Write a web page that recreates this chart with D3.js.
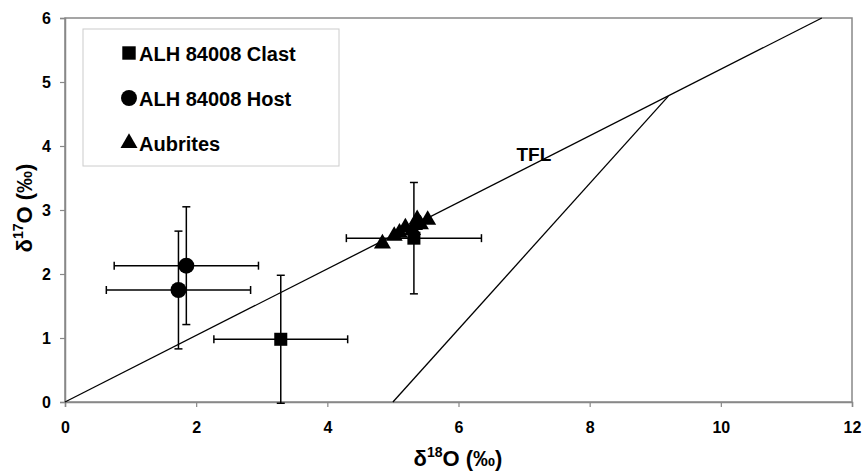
<!DOCTYPE html>
<html>
<head>
<meta charset="utf-8">
<script src="https://cdn.jsdelivr.net/npm/d3@7"></script>
<style>
  body { margin: 0; background: #fff; }
  text { font-family: "Liberation Sans", Arial, sans-serif; font-weight: bold; }
</style>
</head>
<body>
<div id="main"></div>
<script>
// data
var clast = [
  { x: 3.29, y: 0.98, ex: 1.02, ey: 1.0 },
  { x: 5.32, y: 2.56, ex: 1.03, ey: 0.87 }
]
var host = [
  { x: 1.73, y: 1.75, ex: 1.1, ey: 0.92 },
  { x: 1.85, y: 2.13, ex: 1.1, ey: 0.92 }
]
var aubrites = [
  { x: 4.84, y: 2.49 },
  { x: 5.02, y: 2.61 },
  { x: 5.10, y: 2.66 },
  { x: 5.19, y: 2.74 },
  { x: 5.30, y: 2.70 },
  { x: 5.33, y: 2.78 },
  { x: 5.37, y: 2.87 },
  { x: 5.42, y: 2.79 },
  { x: 5.53, y: 2.86 }
]
var tfl = [[0, 0], [11.54, 6]]
var fracLine = [[5.0, 0], [9.2, 4.78]]
var xTicks = [0, 2, 4, 6, 8, 10, 12]
var yTicks = [0, 1, 2, 3, 4, 5, 6]
var legendItems = ['ALH 84008 Clast', 'ALH 84008 Host', 'Aubrites']

var width = 863, height = 472
var plotLeft = 65, plotRight = 852, plotTop = 18, plotBottom = 402

var svg = d3.select('#main')
  .append('svg')
  .attr('width', width)
  .attr('height', height)

var x = d3.scaleLinear().domain([0, 12]).range([plotLeft, plotRight])
var y = d3.scaleLinear().domain([0, 6]).range([plotBottom, plotTop])

// plot frame
svg.append('rect')
  .attr('x', plotLeft).attr('y', plotTop)
  .attr('width', plotRight - plotLeft).attr('height', plotBottom - plotTop)
  .attr('fill', 'none')
  .attr('stroke', '#888')
  .attr('stroke-width', 1.5)

var xAxis = svg.append('g')
  .attr('transform', `translate(0, ${plotBottom})`)
  .call(d3.axisBottom(x).tickValues(xTicks).tickFormat(d3.format('d')).tickSize(5).tickPadding(15))
var yAxis = svg.append('g')
  .attr('transform', `translate(${plotLeft}, 0)`)
  .call(d3.axisLeft(y).tickValues(yTicks).tickFormat(d3.format('d')).tickSize(5).tickPadding(9))

;[xAxis, yAxis].forEach(function (a) {
  a.attr('font-size', null).attr('font-family', null)
  a.select('.domain').attr('stroke', '#888').attr('stroke-width', 1.5)
  a.selectAll('.tick line').attr('stroke', '#888').attr('stroke-width', 1.2)
  a.selectAll('.tick text')
    .attr('fill', '#000')
    .style('font-size', '16px')
})

// reference lines
var line = d3.line().x(_ => x(_[0])).y(_ => y(_[1]))
svg.append('path').attr('d', line(tfl)).attr('stroke', '#000').attr('stroke-width', 1.3).attr('fill', 'none')
svg.append('path').attr('d', line(fracLine)).attr('stroke', '#000').attr('stroke-width', 1.3).attr('fill', 'none')

svg.append('text')
  .text('TFL')
  .attr('x', x(7.15)).attr('y', y(3.76))
  .attr('text-anchor', 'middle')
  .style('font-size', '19px')

// error bars
var cap = 4
function errorBars (data) {
  var g = svg.append('g').attr('stroke', '#000').attr('stroke-width', 1.5)
  data.forEach(function (d) {
    g.append('line').attr('x1', x(d.x - d.ex)).attr('x2', x(d.x + d.ex)).attr('y1', y(d.y)).attr('y2', y(d.y))
    g.append('line').attr('x1', x(d.x - d.ex)).attr('x2', x(d.x - d.ex)).attr('y1', y(d.y) - cap).attr('y2', y(d.y) + cap)
    g.append('line').attr('x1', x(d.x + d.ex)).attr('x2', x(d.x + d.ex)).attr('y1', y(d.y) - cap).attr('y2', y(d.y) + cap)
    g.append('line').attr('x1', x(d.x)).attr('x2', x(d.x)).attr('y1', y(d.y - d.ey)).attr('y2', y(d.y + d.ey))
    g.append('line').attr('x1', x(d.x) - cap).attr('x2', x(d.x) + cap).attr('y1', y(d.y - d.ey)).attr('y2', y(d.y - d.ey))
    g.append('line').attr('x1', x(d.x) - cap).attr('x2', x(d.x) + cap).attr('y1', y(d.y + d.ey)).attr('y2', y(d.y + d.ey))
  })
}
errorBars(clast)
errorBars(host)

var square = d3.symbol().type(d3.symbolSquare).size(170)
var circle = d3.symbol().type(d3.symbolCircle).size(200)
var triangle = d3.symbol().type(d3.symbolTriangle).size(125)

svg.selectAll('.clast').data(clast).enter().append('path')
  .attr('d', square).attr('transform', _ => `translate(${x(_.x)}, ${y(_.y)})`)
svg.selectAll('.host').data(host).enter().append('path')
  .attr('d', circle).attr('transform', _ => `translate(${x(_.x)}, ${y(_.y)})`)
svg.selectAll('.aub').data(aubrites).enter().append('path')
  .attr('d', triangle).attr('transform', _ => `translate(${x(_.x)}, ${y(_.y) + 1})`)

// legend
svg.append('rect')
  .attr('x', 83).attr('y', 29).attr('width', 256).attr('height', 137)
  .attr('fill', '#fff').attr('stroke', '#ccc').attr('stroke-width', 1)

var shapes = [d3.symbol().type(d3.symbolSquare).size(180), d3.symbol().type(d3.symbolCircle).size(200), d3.symbol().type(d3.symbolTriangle).size(125)]
var legend = svg.selectAll('.legend').data(legendItems).enter().append('g')
  .attr('transform', (_, i) => `translate(129, ${53 + i * 45})`)
legend.append('path').attr('d', (_, i) => shapes[i]())
legend.append('text').text(_ => _)
  .attr('x', 10).attr('y', 7.5)
  .style('font-size', '20px')

// axis titles
var xt = svg.append('text')
  .attr('x', 458).attr('y', 466)
  .attr('text-anchor', 'middle')
  .style('font-size', '22px')
xt.append('tspan').text('δ')
xt.append('tspan').text('18').attr('dy', -9).style('font-size', '14px')
xt.append('tspan').text('O (‰)').attr('dy', 9)

var yt = svg.append('text')
  .attr('transform', `translate(32, 208) rotate(-90)`)
  .attr('text-anchor', 'middle')
  .style('font-size', '22px')
yt.append('tspan').text('δ')
yt.append('tspan').text('17').attr('dy', -9).style('font-size', '14px')
yt.append('tspan').text('O (‰)').attr('dy', 9)
</script>
</body>
</html>
